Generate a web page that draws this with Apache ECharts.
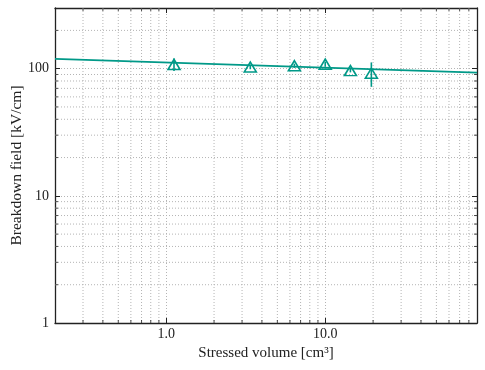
<!DOCTYPE html>
<html>
<head>
<meta charset="utf-8">
<script src="https://cdn.jsdelivr.net/npm/echarts@6/dist/echarts.min.js"></script>
<style>
  html, body { margin: 0; padding: 0; background: #fff; }
  #chart { width: 485px; height: 370px; }
</style>
</head>
<body>
<div id="chart"></div>
<script>
// measured points (stressed volume in cm3, breakdown field in kV/cm)
var volumes = [1.12, 3.38, 6.4, 10.0, 14.4, 19.5];
var fields = [108, 103, 105.5, 108.5, 96.5, 92];
var errors = [12, 4, 4, 5, 3, 20];

// power law fit, drawn between the axis ends
var fitX = [0.2, 90];
var fitY = [119.5, 93.1];

// minor grid positions
var xMinor = [0.3, 0.4, 0.5, 0.6, 0.7, 0.8, 0.9, 2, 3, 4, 5, 6, 7, 8, 9, 20, 30, 40, 50, 60, 70, 80];
var yMinor = [2, 3, 4, 5, 6, 7, 8, 9, 20, 30, 40, 50, 60, 70, 80, 90, 200];

var teal = '#009988';
var gridColor = '#b4b4b4';
var font = '"Liberation Serif", "DejaVu Serif", serif';

var chart = echarts.init(document.getElementById('chart'));

function isDecade(v) {
  var l = Math.log10(v);
  return Math.abs(l - Math.round(l)) < 1e-6;
}

var xBase = {
  type: 'log', logBase: 10, min: 0.2, max: 90,
  axisLine: { show: true, onZero: false, lineStyle: { color: '#222', width: 1.3 } },
  axisTick: { show: true, inside: true, length: 5, lineStyle: { color: '#222', width: 1 } },
  splitLine: { show: false },
  axisLabel: { show: false }
};
var yBase = {
  type: 'log', logBase: 10, min: 1, max: 300,
  axisLine: { show: true, onZero: false, lineStyle: { color: '#222', width: 1.3 } },
  axisTick: { show: true, inside: true, length: 5, lineStyle: { color: '#222', width: 1 } },
  splitLine: { show: false },
  axisLabel: { show: false }
};

var option = {
  animation: false,
  grid: { left: 55, right: 8, top: 8, bottom: 47, containLabel: false, outerBoundsMode: 'none' },
  xAxis: [
    Object.assign({}, xBase, {
      position: 'bottom',
      name: 'Stressed volume [cm\u00b3]',
      nameLocation: 'middle',
      nameGap: 23,
      nameMoveOverlap: false,
      nameTextStyle: { fontFamily: font, fontSize: 15, color: '#222' },
      splitLine: { show: true, lineStyle: { color: gridColor, type: [1, 2], width: 1 } },
      axisLabel: {
        show: true, margin: 4, fontFamily: font, fontSize: 14, color: '#222',
        formatter: function (v) { return isDecade(v) ? v.toFixed(1) : ''; }
      }
    }),
    Object.assign({}, xBase, { position: 'top' })
  ],
  yAxis: [
    Object.assign({}, yBase, {
      position: 'left',
      name: 'Breakdown field [kV/cm]',
      nameLocation: 'middle',
      nameGap: 30,
      nameMoveOverlap: false,
      nameTextStyle: { fontFamily: font, fontSize: 15.5, color: '#222' },
      splitLine: { show: true, lineStyle: { color: gridColor, type: [1, 2], width: 1 } },
      axisLabel: {
        show: true, margin: 6, fontFamily: font, fontSize: 14, color: '#222',
        formatter: function (v) { return isDecade(v) ? String(Math.round(v)) : ''; }
      }
    }),
    Object.assign({}, yBase, { position: 'right' })
  ],
  series: [
    {
      // minor x grid + ticks
      type: 'custom',
      silent: true,
      z: 1,
      data: xMinor.map(function (v) { return [v, 10]; }),
      renderItem: function (params, api) {
        var cs = params.coordSys;
        var px = api.coord([api.value(0), 10])[0];
        return {
          type: 'group',
          children: [
            { type: 'line', shape: { x1: px, y1: cs.y, x2: px, y2: cs.y + cs.height },
              style: { stroke: gridColor, lineWidth: 1, lineDash: [1, 2] } },
            { type: 'line', shape: { x1: px, y1: cs.y + cs.height, x2: px, y2: cs.y + cs.height - 3 },
              style: { stroke: '#222', lineWidth: 0.8 } },
            { type: 'line', shape: { x1: px, y1: cs.y, x2: px, y2: cs.y + 3 },
              style: { stroke: '#222', lineWidth: 0.8 } }
          ]
        };
      }
    },
    {
      // minor y grid + ticks
      type: 'custom',
      silent: true,
      z: 1,
      data: yMinor.map(function (v) { return [1, v]; }),
      renderItem: function (params, api) {
        var cs = params.coordSys;
        var py = api.coord([1, api.value(1)])[1];
        return {
          type: 'group',
          children: [
            { type: 'line', shape: { x1: cs.x, y1: py, x2: cs.x + cs.width, y2: py },
              style: { stroke: gridColor, lineWidth: 1, lineDash: [1, 2] } },
            { type: 'line', shape: { x1: cs.x, y1: py, x2: cs.x + 3, y2: py },
              style: { stroke: '#222', lineWidth: 0.8 } },
            { type: 'line', shape: { x1: cs.x + cs.width, y1: py, x2: cs.x + cs.width - 3, y2: py },
              style: { stroke: '#222', lineWidth: 0.8 } }
          ]
        };
      }
    },
    {
      name: 'fit',
      type: 'line',
      z: 3,
      symbol: 'none',
      data: fitX.map(function (x, i) { return [x, fitY[i]]; }),
      lineStyle: { color: teal, width: 1.8 }
    },
    {
      // error bars
      type: 'custom',
      z: 4,
      data: volumes.map(function (x, i) { return [x, fields[i], errors[i]]; }),
      renderItem: function (params, api) {
        var x = api.value(0), y = api.value(1), e = api.value(2);
        var lo = api.coord([x, y - e]);
        var hi = api.coord([x, y + e]);
        return {
          type: 'line',
          shape: { x1: lo[0], y1: lo[1], x2: hi[0], y2: hi[1] },
          style: { stroke: teal, lineWidth: 1.6 }
        };
      }
    },
    {
      type: 'scatter',
      z: 5,
      symbol: 'triangle',
      symbolSize: [12, 10],
      data: volumes.map(function (x, i) { return [x, fields[i]]; }),
      itemStyle: { color: 'rgba(0,0,0,0)', borderColor: teal, borderWidth: 1.6, opacity: 1 }
    }
  ]
};

chart.setOption(option);
</script>
</body>
</html>
